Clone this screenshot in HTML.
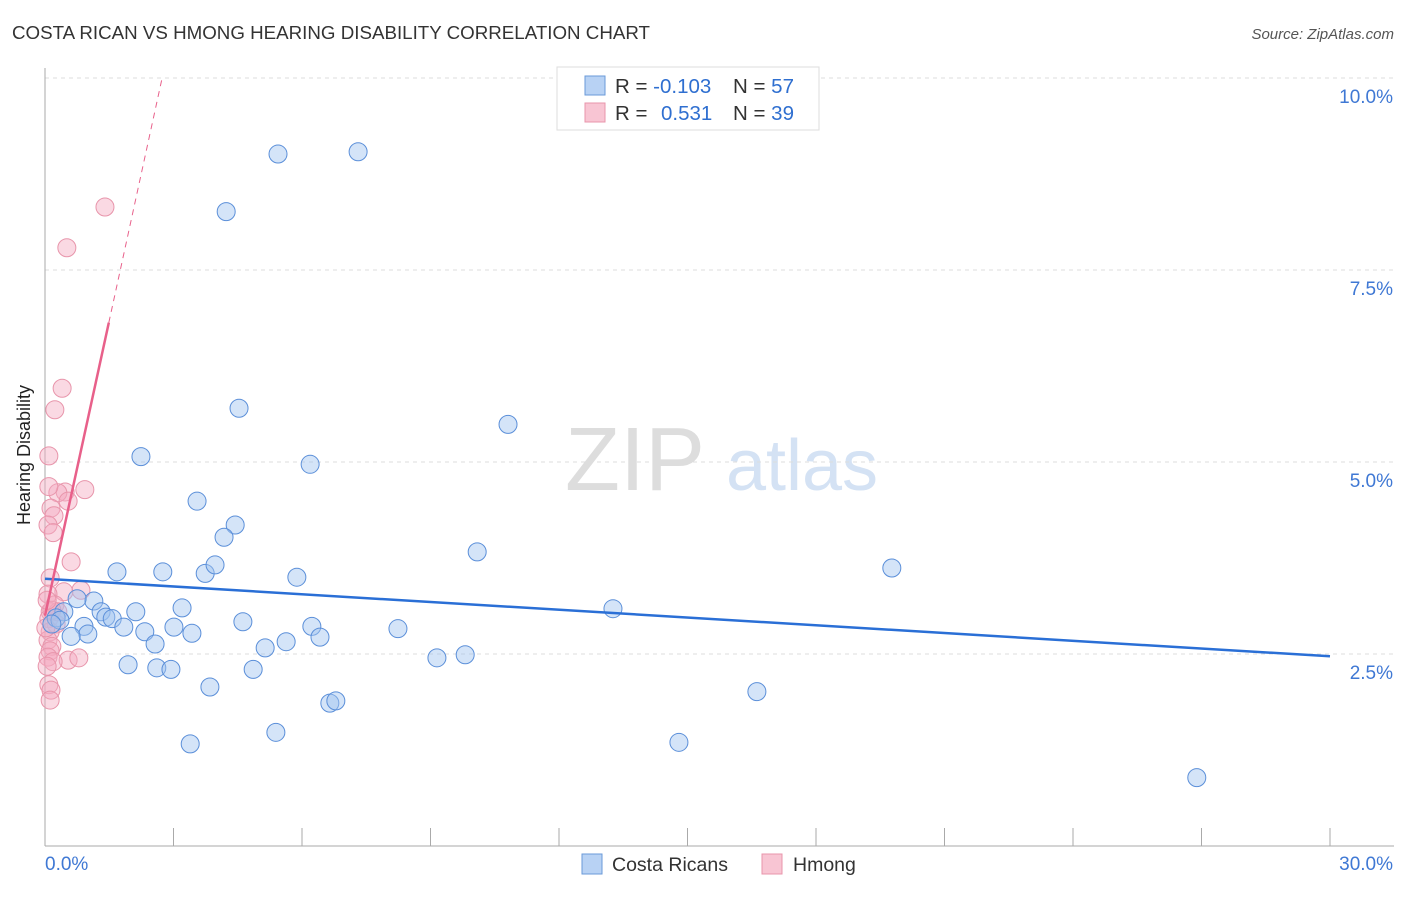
<!DOCTYPE html>
<html><head><meta charset="utf-8"><style>
body{margin:0;background:#fff;font-family:"Liberation Sans",sans-serif;}
svg text{font-family:"Liberation Sans",sans-serif;}
</style></head><body>
<svg id="chart" width="1406" height="892" xmlns="http://www.w3.org/2000/svg">
<text x="12" y="39" font-size="18" fill="#333" textLength="638" lengthAdjust="spacingAndGlyphs">COSTA RICAN VS HMONG HEARING DISABILITY CORRELATION CHART</text>
<text x="1394" y="39" font-size="15" fill="#555" text-anchor="end" font-style="italic">Source: ZipAtlas.com</text>
<text x="30" y="455" font-size="18" fill="#222" text-anchor="middle" transform="rotate(-90 30 455)">Hearing Disability</text>
<g><text x="635" y="490" font-size="90" fill="#ddd" font-family="Liberation Serif" text-anchor="middle">ZIP</text><text x="802" y="490" font-size="72" fill="#d4e2f4" text-anchor="middle">atlas</text></g>
<g id="grid"></g><g id="axes"></g><g id="marks"></g>
<g>
<rect x="557" y="67" width="262" height="63" fill="#fff" stroke="#ddd"/>
<rect x="585" y="76" width="20" height="19" fill="#b8d2f4" stroke="#6a9ad8"/>
<rect x="585" y="103" width="20" height="19" fill="#f8c5d3" stroke="#e895ab"/>
<text x="615" y="93" font-size="20.5" fill="#333">R = <tspan fill="#2f6fd0">-0.103</tspan></text>
<text x="733" y="93" font-size="20.5" fill="#333">N = <tspan fill="#2f6fd0">57</tspan></text>
<text x="615" y="120" font-size="20.5" fill="#333">R = <tspan fill="#2f6fd0" x="661">0.531</tspan></text>
<text x="733" y="120" font-size="20.5" fill="#333">N = <tspan fill="#2f6fd0">39</tspan></text>
</g>
<g>
<rect x="582" y="854" width="20" height="20" fill="#b8d2f4" stroke="#6a9ad8"/>
<text x="612" y="871" font-size="19.5" fill="#333">Costa Ricans</text>
<rect x="762" y="854" width="20" height="20" fill="#f8c5d3" stroke="#e895ab"/>
<text x="793" y="871" font-size="19.5" fill="#333">Hmong</text>
</g>
</svg>
<script>
const blueX=[5.44,7.31,4.23,4.53,10.81,2.24,6.19,3.55,4.44,4.18,10.09,19.77,1.68,2.75,3.74,3.97,5.88,13.26,1.14,0.75,1.31,0.44,2.12,3.20,1.42,1.57,1.84,0.91,0.26,0.35,0.16,3.01,2.33,3.43,4.62,6.23,8.24,6.42,1.00,0.61,5.63,2.57,5.14,9.15,9.81,1.94,2.61,2.94,4.86,3.85,16.62,6.65,6.79,5.39,3.39,14.80,26.89];
const blueY=[9.01,9.04,8.26,5.70,5.49,5.07,4.97,4.49,4.18,4.02,3.83,3.62,3.57,3.57,3.55,3.66,3.50,3.09,3.19,3.22,3.05,3.05,3.05,3.10,2.98,2.96,2.85,2.86,2.97,2.94,2.89,2.85,2.79,2.77,2.92,2.86,2.83,2.72,2.76,2.73,2.66,2.63,2.58,2.45,2.49,2.36,2.32,2.30,2.30,2.07,2.01,1.86,1.89,1.48,1.33,1.35,0.89];
const pinkX=[1.40,0.51,0.40,0.23,0.09,0.93,0.47,0.30,0.54,0.14,0.21,0.07,0.19,0.09,0.61,0.12,0.84,0.44,0.07,0.23,0.12,0.09,0.26,0.12,0.07,0.16,0.54,0.79,0.12,0.07,0.19,0.09,0.14,0.12,0.05,0.30,0.02,0.16,0.05];
const pinkY=[8.32,7.79,5.96,5.68,5.08,4.64,4.61,4.60,4.49,4.40,4.30,4.18,4.08,4.68,3.70,3.49,3.33,3.31,3.28,3.14,3.05,2.96,2.89,2.79,2.68,2.60,2.42,2.45,2.54,2.46,2.40,2.10,2.03,1.90,2.34,3.05,2.84,3.07,3.20];
const blueTrend=[3.48,2.47];
const pinkTrend=[3.0,2.56];
const yTicks=[2.5,5.0,7.5,10.0];
const xTickLabels=["0.0%","30.0%"];
const NS="http://www.w3.org/2000/svg";
const X=v=>45+v/30*1285, Y=v=>846-v*76.8;
function mk(tag,attrs,parent){const e=document.createElementNS(NS,tag);for(const k in attrs)e.setAttribute(k,attrs[k]);document.getElementById(parent).appendChild(e);return e;}
yTicks.forEach(t=>{
 const l=mk('line',{x1:45,x2:1394,y1:Y(t),y2:Y(t),stroke:'#ddd','stroke-dasharray':'4,4'},'grid');
 
 
 const tx=mk('text',{x:1393,y:Y(t)+25,'font-size':19,fill:'#3f78d4','text-anchor':'end'},'axes');tx.textContent=t.toFixed(1)+'%';
 
 
});
mk('line',{x1:45,x2:45,y1:68,y2:846,stroke:'#aaa'},'axes');
mk('line',{x1:45,x2:1394,y1:846,y2:846,stroke:'#aaa'},'axes');
for(let i=1;i<=10;i++){mk('line',{x1:45+i*128.5,x2:45+i*128.5,y1:828,y2:846,stroke:'#aaa'},'axes');}
const xl0=mk('text',{x:45,y:870,'font-size':19,fill:'#3f78d4'},'axes');xl0.textContent=xTickLabels[0];


const xl1=mk('text',{x:1393,y:870,'font-size':19,fill:'#3f78d4','text-anchor':'end'},'axes');xl1.textContent=xTickLabels[1];


pinkX.forEach((v,i)=>{const c=mk('circle',{cx:X(v),cy:Y(pinkY[i]),r:9,fill:'rgba(245,170,192,0.45)',stroke:'#e895ab','stroke-width':1},'marks');
 
 });
blueX.forEach((v,i)=>{const c=mk('circle',{cx:X(v),cy:Y(blueY[i]),r:9,fill:'rgba(160,196,240,0.45)',stroke:'#5b8fd9','stroke-width':1},'marks');
 
 });
const bt=mk('line',{x1:X(0),y1:Y(blueTrend[0]),x2:X(30),y2:Y(blueTrend[1]),stroke:'#2a6fd6','stroke-width':2.5},'marks');


const px1=1.49, px2=(10-pinkTrend[0])/pinkTrend[1];
const pt=mk('line',{x1:X(0),y1:Y(pinkTrend[0]),x2:X(px1),y2:Y(pinkTrend[0]+pinkTrend[1]*px1),stroke:'#e8608a','stroke-width':2.5},'marks');


const pd=mk('line',{x1:X(px1),y1:Y(pinkTrend[0]+pinkTrend[1]*px1),x2:X(px2),y2:Y(10),stroke:'#e8608a','stroke-width':1,'stroke-dasharray':'6,5'},'marks');


</script>
</body></html>
